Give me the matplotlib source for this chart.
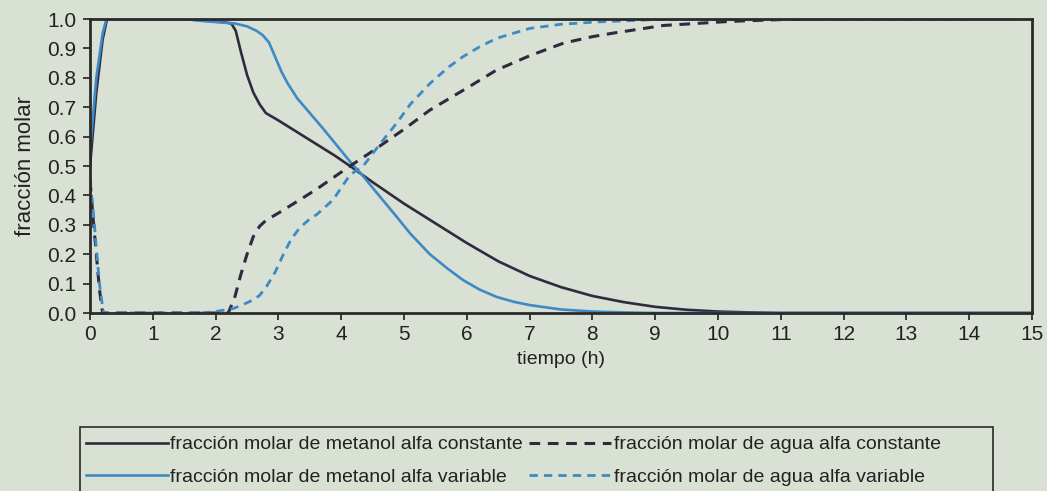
import matplotlib
matplotlib.use("Agg")
from matplotlib import pyplot as plt
from matplotlib.patches import Rectangle

# tiempo (h) / fraccion molar de cada curva
t_met_const = [0, 0.1, 0.2, 0.27, 1.0, 1.5, 1.8, 2.1, 2.25, 2.32, 2.4, 2.5, 2.6, 2.7,
               2.8, 3.0, 3.3, 3.6, 3.9, 4.14, 4.5, 5.0, 5.5, 6.0, 6.5, 7.0, 7.5, 8.0,
               8.5, 9.0, 9.5, 10.0, 10.5, 11.0, 15]
x_met_const = [0.5, 0.75, 0.93, 1.0, 1.0, 1.0, 0.995, 0.99, 0.985, 0.96, 0.89, 0.81,
               0.75, 0.71, 0.68, 0.655, 0.615, 0.575, 0.535, 0.50, 0.445, 0.372, 0.305,
               0.238, 0.176, 0.126, 0.088, 0.058, 0.037, 0.021, 0.011, 0.005, 0.002, 0, 0]

t_met_var = [0, 0.1, 0.2, 0.26, 1.0, 1.5, 1.8, 2.1, 2.3, 2.5, 2.65, 2.75, 2.85, 2.95,
             3.05, 3.15, 3.3, 3.5, 3.7, 3.9, 4.14, 4.35, 4.6, 4.88, 5.1, 5.41, 5.7,
             5.94, 6.2, 6.47, 6.75, 7.0, 7.5, 8.0, 8.5, 9.0, 15]
x_met_var = [0.55, 0.8, 0.95, 1.0, 1.0, 1.0, 0.993, 0.988, 0.985, 0.975, 0.96, 0.945,
             0.92, 0.87, 0.82, 0.78, 0.73, 0.68, 0.63, 0.578, 0.515, 0.465, 0.40,
             0.328, 0.27, 0.20, 0.15, 0.112, 0.08, 0.055, 0.038, 0.027, 0.012, 0.005,
             0.002, 0, 0]

t_agua_const = [0, 0.05, 0.1, 0.15, 0.2, 2.2, 2.3, 2.4, 2.5, 2.6, 2.7, 2.8, 3.0, 3.34,
                3.6, 3.87, 4.14, 4.46, 5.0, 5.41, 6.0, 6.47, 7.0, 7.54, 8.0, 8.33,
                9.13, 10.2, 11.0, 11.5]
x_agua_const = [0.45, 0.32, 0.2, 0.08, 0, 0, 0.05, 0.13, 0.2, 0.26, 0.295, 0.315,
                0.34, 0.385, 0.42, 0.46, 0.50, 0.545, 0.625, 0.69, 0.765, 0.826,
                0.875, 0.918, 0.94, 0.952, 0.978, 0.992, 0.998, 1.0]

t_agua_var = [0, 0.05, 0.1, 0.15, 0.2, 0.22, 1.75, 2.0, 2.28, 2.45, 2.6, 2.7, 2.81,
              2.95, 3.08, 3.2, 3.34, 3.5, 3.61, 3.87, 4.14, 4.35, 4.6, 4.88, 5.1,
              5.41, 5.7, 5.94, 6.2, 6.47, 7.0, 7.5, 8.07, 9.0, 14.7]
x_agua_var = [0.45, 0.35, 0.22, 0.1, 0.02, 0, 0, 0.005, 0.015, 0.03, 0.045, 0.06,
              0.09, 0.14, 0.20, 0.25, 0.29, 0.32, 0.335, 0.385, 0.47, 0.50, 0.57,
              0.645, 0.71, 0.78, 0.835, 0.872, 0.905, 0.934, 0.968, 0.982, 0.99,
              0.998, 1.0]

lbl_met_const = "fracción molar de metanol alfa constante"
lbl_agua_const = "fracción molar de agua alfa constante"
lbl_met_var = "fracción molar de metanol alfa variable"
lbl_agua_var = "fracción molar de agua alfa variable"

fondo = "#d9e0d4"
oscuro = "#2e2b3e"
azul = "#3d8ac4"
texto = "#222222"

plt.rcParams["font.family"] = ["Liberation Sans", "DejaVu Sans"]

fig = plt.figure(figsize=(10.47, 4.91), dpi=100, facecolor=fondo)
ax = fig.add_axes([0.086, 0.3625, 0.8997, 0.5988], facecolor=fondo)

l1, = ax.plot(t_met_const, x_met_const, color=oscuro, lw=1.9)
l3, = ax.plot(t_met_var, x_met_var, color=azul, lw=1.9)
l2, = ax.plot(t_agua_const, x_agua_const, color=oscuro, lw=2.2, ls=(0, (3.5, 2.5)))
l4, = ax.plot(t_agua_var, x_agua_var, color=azul, lw=2.0, ls=(0, (3, 2.2)))

ax.set_xlim(0, 15)
ax.set_ylim(0, 1)
ax.set_xticks(range(0, 16))
ax.set_yticks([i / 10 for i in range(11)])
ax.set_yticklabels([f"{i / 10:.1f}" for i in range(11)])
ax.tick_params(labelsize=15, colors=texto, length=5, width=1.2, direction="out")
ax.tick_params(axis="y", pad=5)
for s in ax.spines.values():
    s.set_linewidth(2)
    s.set_color("#2a2a2a")

ax.set_xlabel("tiempo (h)", fontsize=14, color=texto, labelpad=5)
ax.set_ylabel("fracción molar", fontsize=16, color=texto, labelpad=8)

# marco de la leyenda, abierto por abajo
fig.add_artist(Rectangle((80 / 1047, -0.1), (993 - 80) / 1047, 0.1 + 1 - 427 / 491,
                         transform=fig.transFigure, fill=False,
                         edgecolor="#2a2a2a", lw=1.2))

# orden por columnas: fila 1 constante, fila 2 variable
leg = fig.legend([l1, l3, l2, l4],
                 [lbl_met_const, lbl_met_var, lbl_agua_const, lbl_agua_var],
                 ncol=2, loc="upper left",
                 bbox_to_anchor=(80 / 1047, 1 - 430 / 491),
                 prop={"size": 14}, frameon=False,
                 handlelength=4.2, handletextpad=0.15,
                 columnspacing=0.3, borderaxespad=0, borderpad=0.3, labelspacing=0.75)
for txt in leg.get_texts():
    txt.set_color(texto)

fig.savefig("out.png", dpi=100, facecolor=fondo)
